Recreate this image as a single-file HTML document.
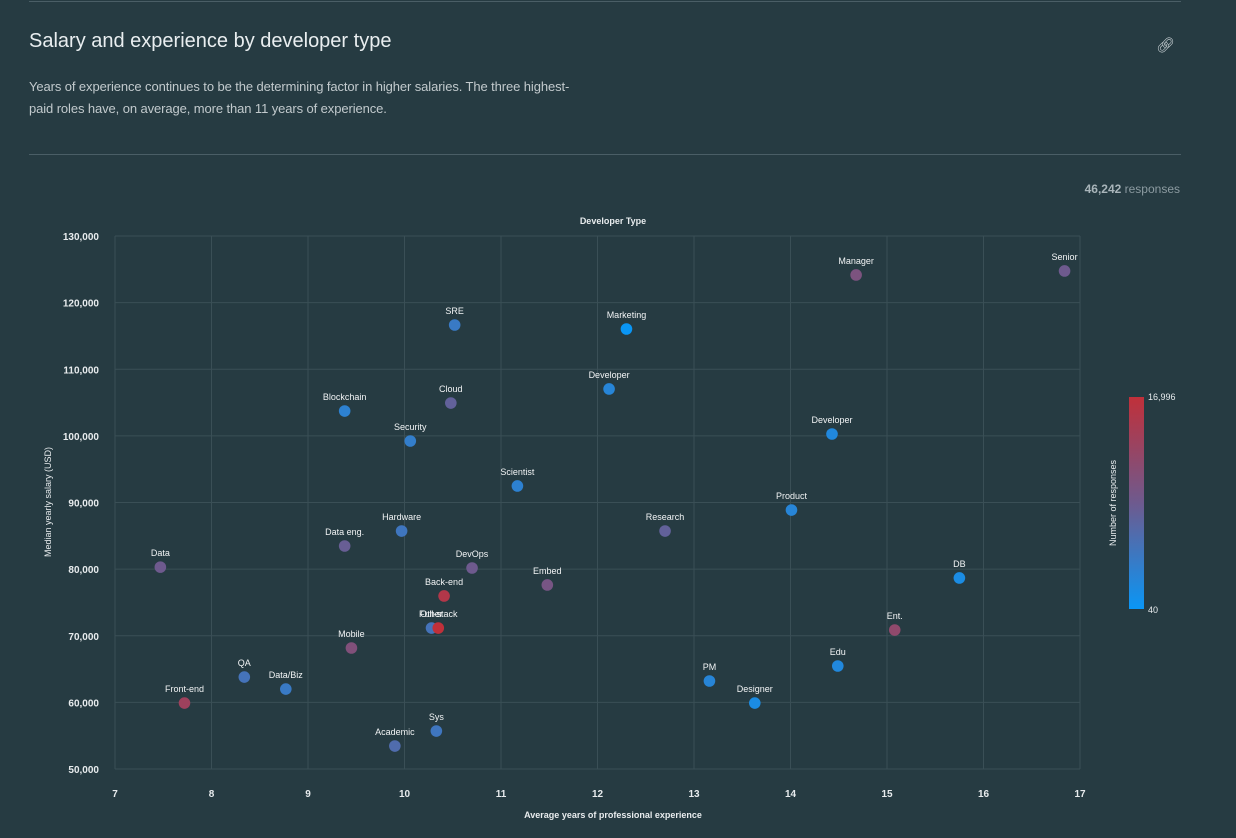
<!DOCTYPE html>
<html><head><meta charset="utf-8"><style>
body{margin:0;background:#263b42;width:1236px;height:838px;overflow:hidden;font-family:"Liberation Sans",sans-serif;}
.line{position:absolute;left:29px;width:1152px;height:1px;background:#4a5e66;}
</style></head><body>
<div class="line" style="top:1px"></div>
<div style="position:absolute;left:29px;top:30px;font-size:20px;color:#e9eef0;">Salary and experience by developer type</div>
<div style="position:absolute;left:1156px;top:36px;font-size:15px;color:#c8d0d4;">🔗︎</div>
<div style="position:absolute;left:29px;top:76px;width:545px;font-size:13px;letter-spacing:-0.1px;line-height:22px;color:#c2cacd;">Years of experience continues to be the determining factor in higher salaries. The three highest-paid roles have, on average, more than 11 years of experience.</div>
<div class="line" style="top:154px"></div>
<div style="position:absolute;right:56px;top:182px;font-size:12px;color:#8c9ba1;"><b style="color:#a9b5ba">46,242</b> responses</div>
<svg id="chart" width="1236" height="838" style="position:absolute;left:0;top:0">
<defs><linearGradient id="cb" x1="0" y1="1" x2="0" y2="0"><stop offset="0" stop-color="#0a96f5"/><stop offset="0.5" stop-color="#6e5a8e"/><stop offset="1" stop-color="#c0303a"/></linearGradient></defs>
</svg>
<script>
const names=["Data","Front-end","QA","Data/Biz","Data eng.","Blockchain","Mobile","Academic","Hardware","Security","Sys","Other","Full-stack","Back-end","Cloud","SRE","DevOps","Scientist","Embed","Developer","Marketing","Research","PM","Designer","Product","Developer","Edu","Manager","Ent.","DB","Senior"];
const years=[7.47,7.72,8.34,8.77,9.38,9.38,9.45,9.90,9.97,10.06,10.33,10.28,10.35,10.41,10.48,10.52,10.70,11.17,11.48,12.12,12.30,12.70,13.16,13.63,14.01,14.43,14.49,14.68,15.08,15.75,16.84];
const salary=[80300,59900,63800,62000,83470,103730,68160,53450,85720,99230,55700,71160,71160,75970,104930,116640,80170,92480,77620,107040,116040,85720,63210,59900,88870,100280,65460,124150,70860,78670,124750];
const responses=[8500,13500,5000,4000,8000,3000,10500,6000,4500,3500,4500,5000,16996,15500,7500,4000,8500,3000,9500,2500,40,7500,2500,1500,2500,2000,2000,10000,12000,1500,8500];
const xTicks=[7,8,9,10,11,12,13,14,15,16,17];
const yTicks=[50000,60000,70000,80000,90000,100000,110000,120000,130000];
const svg=document.getElementById('chart');const NS="http://www.w3.org/2000/svg";
const X=v=>115+(v-7)*96.5, Y=v=>769-(v-50000)*533/80000;
function mk(t,a,txt){const e=document.createElementNS(NS,t);for(const k in a)e.setAttribute(k,a[k]);if(txt!=null)e.textContent=txt;svg.appendChild(e);return e;}
function col(r){const t=(r-40)/(16996-40);const a=[10,150,245],m=[110,90,142],b=[192,48,58];let c;
 if(t<0.5){const u=t*2;c=a.map((v,i)=>Math.round(v+(m[i]-v)*u));}else{const u=(t-0.5)*2;c=m.map((v,i)=>Math.round(v+(b[i]-v)*u));}return `rgb(${c})`;}
xTicks.forEach(v=>{const g=mk('line',{x1:X(v),x2:X(v),y1:236,y2:769,stroke:'#3a4f56'});
 const t=mk('text',{x:X(v),y:797,fill:'#e8ecee','font-size':10,'font-weight':'bold','text-anchor':'middle'},v);});
yTicks.forEach(v=>{const g=mk('line',{x1:115,x2:1080,y1:Y(v),y2:Y(v),stroke:'#3a4f56'});
 const t=mk('text',{x:99,y:Y(v)+4,fill:'#e8ecee','font-size':10,'font-weight':'bold','text-anchor':'end'},v.toLocaleString('en-US'));});
let e=mk('text',{x:613,y:224,fill:'#e8ecee','font-size':9,'font-weight':'bold','text-anchor':'middle'},'Developer Type');
e=mk('text',{x:613,y:818,fill:'#e8ecee','font-size':9,'font-weight':'bold','text-anchor':'middle'},'Average years of professional experience');
e=mk('text',{x:0,y:0,fill:'#e8ecee','font-size':9,'text-anchor':'middle',transform:'translate(51,502) rotate(-90)'},'Median yearly salary (USD)');
names.forEach((n,i)=>{const cx=X(years[i]),cy=Y(salary[i]);
 const c=mk('circle',{cx:cx,cy:cy,r:5.8,fill:col(responses[i])});
 const t=mk('text',{x:cx,y:cy-11,fill:'#f2f4f5','font-size':9,'text-anchor':'middle'},n);});
e=mk('rect',{x:1129,y:397,width:15,height:212,fill:'url(#cb)'});
e=mk('text',{x:1148,y:400,fill:'#e8ecee','font-size':9},'16,996');
e=mk('text',{x:1148,y:613,fill:'#e8ecee','font-size':9},'40');
e=mk('text',{x:0,y:0,fill:'#e8ecee','font-size':9,'text-anchor':'middle',transform:'translate(1116,503) rotate(-90)'},'Number of responses');
</script>
</body></html>
